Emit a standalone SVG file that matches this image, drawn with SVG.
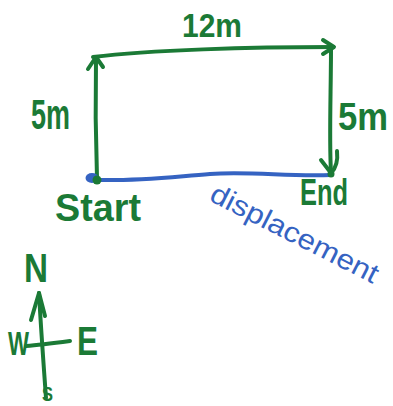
<svg xmlns="http://www.w3.org/2000/svg" width="393" height="406" viewBox="0 0 393 406">
<style>
.g{stroke:#1b7a36;fill:none;stroke-width:4;stroke-linecap:round;stroke-linejoin:round}
.b{stroke:#3563c2;fill:none;stroke-width:4;stroke-linecap:round;stroke-linejoin:round}
.gt{fill:#1b7a36;font-family:"Liberation Sans",Arial,sans-serif;font-weight:bold}
.bt{fill:#3563c2;font-family:"Liberation Sans",Arial,sans-serif}
</style>
<rect width="393" height="406" fill="#fff"/>
<g id="connectors">
<path class="g" d="M97,178 C96,150 95,110 96,58"/>
<path class="g" d="M88,69 L96,57 L103,67"/>
<path class="g" d="M93,57 C150,50 250,47 333,47"/>
<path class="g" d="M323,40 L334,47 L323,54"/>
<path class="g" d="M331,48 C331,90 329,140 331,172"/>
<path class="g" d="M321,160 L331,173 C336,168 338,160 337,151"/>
<path class="b" d="M97,180 C140,181 170,177 210,174 C250,171 290,177 331,175"/>
<circle cx="331" cy="174" r="3.5" fill="#1b7a36"/>
</g>
<g id="label-12m"><text class="gt" x="182" y="37" font-size="33" textLength="60" lengthAdjust="spacingAndGlyphs">12m</text></g>
<g id="label-5m-left"><text class="gt" x="31" y="129" font-size="42" textLength="39" lengthAdjust="spacingAndGlyphs">5m</text></g>
<g id="label-5m-right"><text class="gt" x="338" y="130" font-size="38" textLength="50" lengthAdjust="spacingAndGlyphs">5m</text></g>
<g id="start">
<ellipse cx="92" cy="178" rx="6.5" ry="5" fill="#3563c2"/>
<circle cx="97" cy="180" r="4.5" fill="#1b7a36"/>
<text class="gt" x="55" y="221" font-size="38" textLength="86" lengthAdjust="spacingAndGlyphs">Start</text>
</g>
<g id="end">
<text class="gt" x="300" y="205" font-size="36" textLength="48" lengthAdjust="spacingAndGlyphs">End</text>
</g>
<g id="label-displacement">
<text class="bt" x="208" y="200" font-size="28" textLength="185" lengthAdjust="spacingAndGlyphs" transform="rotate(27 208 200)">displacement</text>
</g>
<g id="compass">
<path class="g" d="M39,293 C41,330 44,370 46,398"/>
<path class="g" d="M31,320 L39,293 L45,316"/>
<path class="g" d="M26,346 C40,345 55,343 70,341"/>
<text class="gt" x="24" y="282" font-size="40" textLength="24" lengthAdjust="spacingAndGlyphs">N</text>
<text class="gt" x="8" y="355" font-size="34" textLength="21" lengthAdjust="spacingAndGlyphs">W</text>
<text class="gt" x="77" y="355" font-size="40" textLength="21" lengthAdjust="spacingAndGlyphs">E</text>
<text class="gt" x="42" y="401" font-size="20" textLength="11" lengthAdjust="spacingAndGlyphs">S</text>
</g>
</svg>
